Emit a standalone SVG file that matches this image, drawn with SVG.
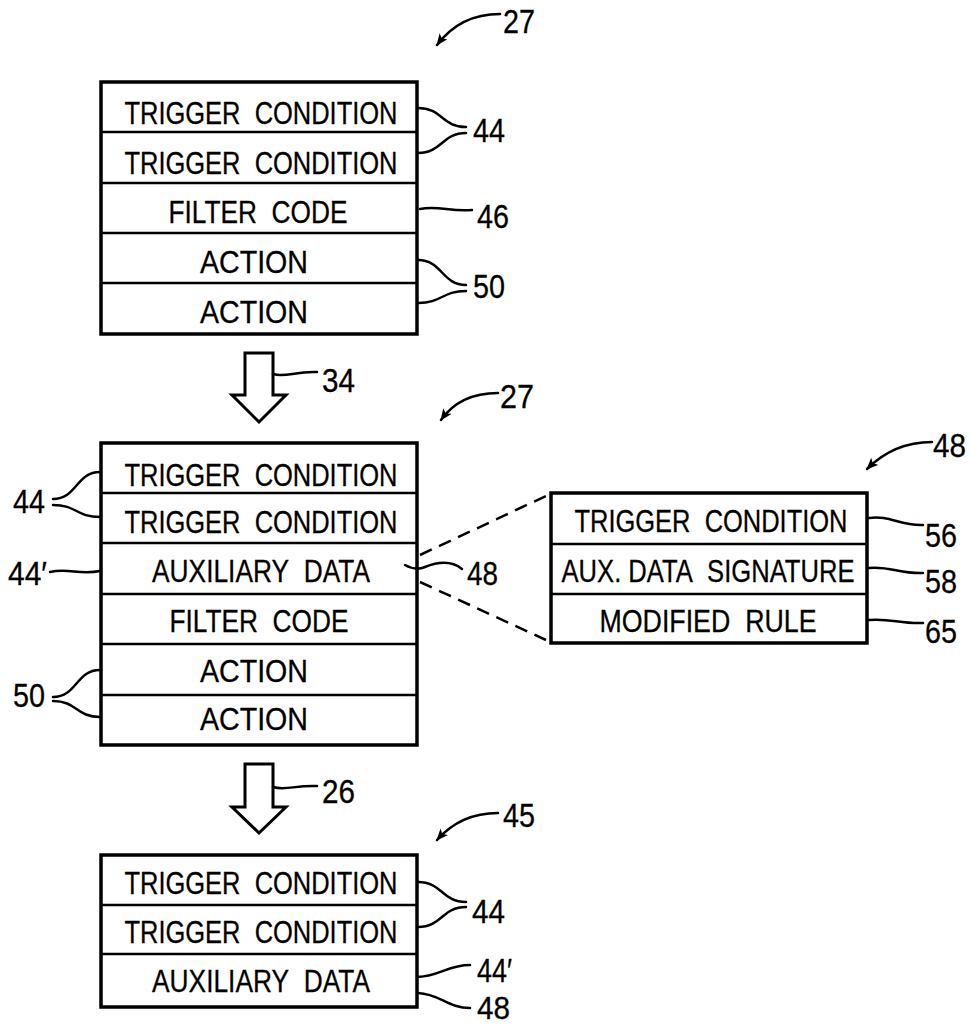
<svg xmlns="http://www.w3.org/2000/svg" width="970" height="1026" viewBox="0 0 970 1026">
<style>
.box{fill:#fff;stroke:#000;stroke-width:3.5}
.div{stroke:#000;stroke-width:2.5}
.t{font-family:"Liberation Sans",Arial,sans-serif;font-size:32px;fill:#000;text-anchor:middle;stroke:#000;stroke-width:0.3}
.n{font-family:"Liberation Sans",Arial,sans-serif;font-size:34px;fill:#000;stroke:#000;stroke-width:0.3}
.ld{fill:none;stroke:#000;stroke-width:2.5;stroke-linecap:round}
.dash{fill:none;stroke:#000;stroke-width:2.5;stroke-dasharray:13 8}
.hollow{fill:#fff;stroke:#000;stroke-width:3;stroke-linejoin:miter}
</style>
<defs>
<marker id="ah" viewBox="0 0 12 10" refX="11" refY="5" markerWidth="12" markerHeight="10" markerUnits="userSpaceOnUse" orient="auto">
<path d="M0,0 L12,5 L0,10 L3,5 Z" fill="#000"/>
</marker>
</defs>
<rect width="970" height="1026" fill="#fff"/>

<g id="rule-top">
<rect class="box" x="101" y="82" width="316" height="252"/>
<line class="div" x1="101" y1="132" x2="417" y2="132"/>
<line class="div" x1="101" y1="183" x2="417" y2="183"/>
<line class="div" x1="101" y1="233" x2="417" y2="233"/>
<line class="div" x1="101" y1="283" x2="417" y2="283"/>
<text class="t" x="261" y="124" textLength="273" lengthAdjust="spacingAndGlyphs">TRIGGER&#160; CONDITION</text>
<text class="t" x="261" y="174" textLength="273" lengthAdjust="spacingAndGlyphs">TRIGGER&#160; CONDITION</text>
<text class="t" x="258" y="223" textLength="179" lengthAdjust="spacingAndGlyphs">FILTER&#160; CODE</text>
<text class="t" x="254" y="273" textLength="108" lengthAdjust="spacingAndGlyphs">ACTION</text>
<text class="t" x="254" y="323" textLength="108" lengthAdjust="spacingAndGlyphs">ACTION</text>
</g>

<g id="rule-middle">
<rect class="box" x="101" y="443" width="316" height="302"/>
<line class="div" x1="101" y1="493" x2="417" y2="493"/>
<line class="div" x1="101" y1="543" x2="417" y2="543"/>
<line class="div" x1="101" y1="594" x2="417" y2="594"/>
<line class="div" x1="101" y1="644" x2="417" y2="644"/>
<line class="div" x1="101" y1="695" x2="417" y2="695"/>
<text class="t" x="261" y="486" textLength="273" lengthAdjust="spacingAndGlyphs">TRIGGER&#160; CONDITION</text>
<text class="t" x="261" y="533" textLength="273" lengthAdjust="spacingAndGlyphs">TRIGGER&#160; CONDITION</text>
<text class="t" x="261" y="582" textLength="218" lengthAdjust="spacingAndGlyphs">AUXILIARY&#160; DATA</text>
<text class="t" x="259" y="632" textLength="179" lengthAdjust="spacingAndGlyphs">FILTER&#160; CODE</text>
<text class="t" x="254" y="682" textLength="108" lengthAdjust="spacingAndGlyphs">ACTION</text>
<text class="t" x="254" y="730" textLength="108" lengthAdjust="spacingAndGlyphs">ACTION</text>
</g>

<g id="aux-detail">
<rect class="box" x="551" y="493" width="316" height="150"/>
<line class="div" x1="551" y1="544" x2="867" y2="544"/>
<line class="div" x1="551" y1="594" x2="867" y2="594"/>
<text class="t" x="711" y="532" textLength="273" lengthAdjust="spacingAndGlyphs">TRIGGER&#160; CONDITION</text>
<text class="t" x="708" y="582" textLength="293" lengthAdjust="spacingAndGlyphs">AUX. DATA&#160; SIGNATURE</text>
<text class="t" x="708" y="632" textLength="217" lengthAdjust="spacingAndGlyphs">MODIFIED&#160; RULE</text>
</g>

<g id="rule-bottom">
<rect class="box" x="101" y="855" width="316" height="152"/>
<line class="div" x1="101" y1="905" x2="417" y2="905"/>
<line class="div" x1="101" y1="954" x2="417" y2="954"/>
<text class="t" x="261" y="894" textLength="273" lengthAdjust="spacingAndGlyphs">TRIGGER&#160; CONDITION</text>
<text class="t" x="261" y="943" textLength="273" lengthAdjust="spacingAndGlyphs">TRIGGER&#160; CONDITION</text>
<text class="t" x="261" y="992" textLength="218" lengthAdjust="spacingAndGlyphs">AUXILIARY&#160; DATA</text>
</g>

<g id="arrow-34">
<polygon class="hollow" points="245,353 273,353 273,395 286,395 259,422 232,395 245,395"/>
</g>
<g id="arrow-26">
<polygon class="hollow" points="245,764 273,764 273,807 286,807 259,833 232,807 245,807"/>
</g>

<g id="connectors">
<path class="ld" d="M500,14 C474,14 452,25 437,45" marker-end="url(#ah)"/>
<path class="ld" d="M498,393 C472,393 453,403 441,420" marker-end="url(#ah)"/>
<path class="ld" d="M932,442 C906,442 884,452 867,469" marker-end="url(#ah)"/>
<path class="ld" d="M498,813 C472,813 452,823 437,840" marker-end="url(#ah)"/>
<path class="ld" d="M418,108 C442,108 442,127 466,127"/>
<path class="ld" d="M418,153 C442,153 442,133 466,133"/>
<path class="ld" d="M420,209 C438,205 450,212 472,210"/>
<path class="ld" d="M418,260 C442,260 442,285 466,285"/>
<path class="ld" d="M418,303 C442,303 442,291 466,291"/>
<path class="ld" d="M273,374 C285,378 295,371 317,372"/>
<path class="ld" d="M273,787 C285,791 295,785 317,786"/>
<path class="ld" d="M100,472 C76,472 77,499 53,499"/>
<path class="ld" d="M100,517 C76,517 77,505 53,505"/>
<path class="ld" d="M50,572 C68,568 80,575 100,571"/>
<path class="ld" d="M100,670 C76,670 77,697 53,697"/>
<path class="ld" d="M100,717 C76,717 77,701 53,701"/>
<path class="ld" d="M405,565 C412,569 418,570 425,567 C440,561 452,561 462,569"/>
<path class="dash" d="M420,555 L546,496"/>
<path class="dash" d="M420,582 L546,640"/>
<path class="ld" d="M869,518 C890,515 900,526 923,525"/>
<path class="ld" d="M869,568 C890,566 900,574 923,573"/>
<path class="ld" d="M869,620 C890,618 900,624 923,623"/>
<path class="ld" d="M418,882 C442,882 442,902 466,902"/>
<path class="ld" d="M418,927 C442,927 442,907 466,907"/>
<path class="ld" d="M418,977 C440,976 448,965 470,965"/>
<path class="ld" d="M418,993 C440,994 448,1008 470,1008"/>
</g>

<g id="labels">
<text class="n" x="503" y="33" textLength="32" lengthAdjust="spacingAndGlyphs">27</text>
<text class="n" x="473" y="142" textLength="32" lengthAdjust="spacingAndGlyphs">44</text>
<text class="n" x="477" y="228" textLength="32" lengthAdjust="spacingAndGlyphs">46</text>
<text class="n" x="473" y="298" textLength="32" lengthAdjust="spacingAndGlyphs">50</text>
<text class="n" x="322" y="392" textLength="33" lengthAdjust="spacingAndGlyphs">34</text>
<text class="n" x="500" y="408" textLength="34" lengthAdjust="spacingAndGlyphs">27</text>
<text class="n" x="13" y="513" textLength="32" lengthAdjust="spacingAndGlyphs">44</text>
<text class="n" x="8" y="585" textLength="39" lengthAdjust="spacingAndGlyphs">44′</text>
<text class="n" x="13" y="707" textLength="32" lengthAdjust="spacingAndGlyphs">50</text>
<text class="n" x="467" y="585" textLength="31" lengthAdjust="spacingAndGlyphs">48</text>
<text class="n" x="933" y="457" textLength="33" lengthAdjust="spacingAndGlyphs">48</text>
<text class="n" x="925" y="547" textLength="32" lengthAdjust="spacingAndGlyphs">56</text>
<text class="n" x="925" y="593" textLength="32" lengthAdjust="spacingAndGlyphs">58</text>
<text class="n" x="925" y="643" textLength="32" lengthAdjust="spacingAndGlyphs">65</text>
<text class="n" x="322" y="803" textLength="33" lengthAdjust="spacingAndGlyphs">26</text>
<text class="n" x="503" y="827" textLength="32" lengthAdjust="spacingAndGlyphs">45</text>
<text class="n" x="472" y="923" textLength="33" lengthAdjust="spacingAndGlyphs">44</text>
<text class="n" x="477" y="982" textLength="35" lengthAdjust="spacingAndGlyphs">44′</text>
<text class="n" x="477" y="1019" textLength="33" lengthAdjust="spacingAndGlyphs" style="font-size:31px">48</text>
</g>
</svg>
